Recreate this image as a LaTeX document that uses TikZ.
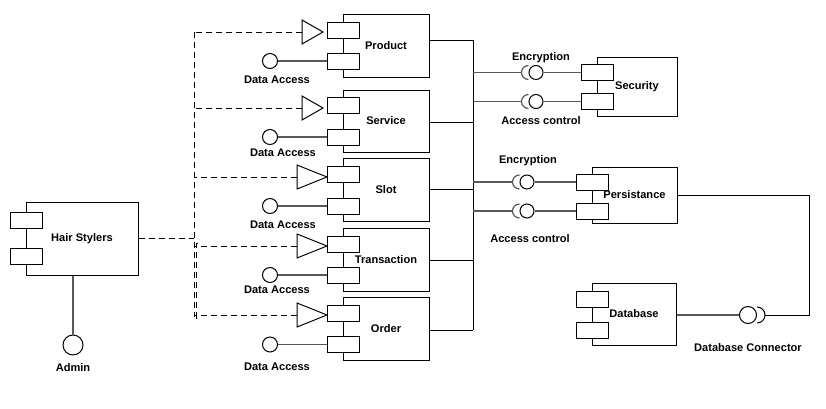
\documentclass[tikz,border=0pt]{standalone}
\usepackage{fontspec}
\setmainfont{Liberation Sans}
\begin{document}
\begin{tikzpicture}[x=0.75pt,y=-0.75pt,
  font=\fontsize{8.3}{10}\selectfont\bfseries,
  comp/.style={draw, line width=0.75pt, fill=white, inner sep=0pt},
  port/.style={draw, line width=0.75pt, fill=white, minimum width=24pt, minimum height=12pt, inner sep=0pt},
  ball/.style={draw, circle, line width=0.75pt, fill=white, inner sep=0pt, minimum size=#1},
  ball/.default=10.5pt,
  wire/.style={line width=0.75pt},
  gwire/.style={line width=0.9pt, draw=black!65},
  dep/.style={line width=0.7pt, dash pattern=on 4.5pt off 3pt},
  lbl/.style={inner sep=0pt}]
\useasboundingbox (0,0) rectangle (826,408);

% Hair Stylers
\node[comp, minimum width=84pt, minimum height=54.75pt] (hair) at (82,238.5) {Hair Stylers};
\node[port] (hair-p1) at (26,220) {};
\node[port] (hair-p2) at (26,256) {};
\node[ball=15pt] (admin) at (73,345) {};
\draw[gwire] (hair.south -| admin) -- (admin);
\node[lbl] (admin-l) at (73,368) {Admin};

% dependency trunk
\coordinate (trunk-top) at (194,32);
\coordinate (trunk-bot) at (194,317);
\draw[dep] (trunk-top) -- (trunk-bot);
\draw[dep] (hair.east) -- (hair.east -| trunk-top);
\draw[line width=0.45pt, dash pattern=on 4.5pt off 3pt] (197.5,243) -- (196.5,243) -- (196.5,318) -- (197.5,318);

% left components
\foreach \n/\txt/\yt/\yb/\pa/\pb/\tl/\tr/\ta/\lx/\ly/\by in {
 prod/Product/14/77/30/61/302/323/32/277/80/40,
 serv/Service/90/152/105/137/302/323/108/283/153/122,
 slot/Slot/158/221/174/206/297/327/177/283/225/189,
 tran/Transaction/228/291/244.5/275/297/327/246/277/290/260,
 ord/Order/297/360/313.5/344.5/297/327/315/277/367/330}{
 \node[comp, minimum width=64.5pt, minimum height={(\yb-\yt)*0.75pt}] (\n) at (386,{(\yt+\yb)/2}) {\txt};
 \node[port] (\n-p1) at (343,\pa) {};
 \node[port] (\n-p2) at (343,\pb) {};
 \coordinate (\n-t) at (\tl,\ta);
 \draw[wire, line join=miter] (\tl,\ta-12) -- (\tr,\ta) -- (\tl,\ta+12) -- cycle;
 \draw[dep] (\n-t) -- (\n-t -| trunk-top);
 \node[ball=11.25pt] (\n-b) at (270,\pb) {};
 \draw[gwire] (\n-b) -- (\n-p2);
 \node[lbl] (\n-l) at (\lx,\ly) {Data Access};
 \coordinate (\n-bus) at (473,\by);
 \draw[wire] (\n.east |- \n-bus) -- (\n-bus);
}
\draw[wire] (prod-bus) -- (ord-bus);

% Security
\node[comp, minimum width=60pt, minimum height=44.25pt] (sec) at (637,86.5) {Security};
\node[port] (sec-p1) at (597,72.5) {};
\node[port] (sec-p2) at (597,101.5) {};
\node[ball] (sec-b1) at (536,72.5) {};
\node[ball] (sec-b2) at (536,101.5) {};
\foreach \i in {1,2}{
 \draw[gwire] (sec-b\i) -- (sec-p\i);
 \draw[gwire] (sec-b\i.west) ++(0,7) arc (90:270:7);
 \coordinate (sec-s\i) at ([xshift=-5.25pt]sec-b\i.west);
 \coordinate (sec-bus\i) at (sec-s\i -| prod-bus);
 \draw[gwire] (sec-bus\i) -- (sec-s\i);
}
\node[lbl] (enc1) at (541,58) {Encryption};
\node[lbl] (ac1) at (541,121) {Access control};

% Persistance
\node[comp, minimum width=63.75pt, minimum height=42pt] (pers) at (634.5,195) {Persistance};
\node[port] (pers-p1) at (592,182) {};
\node[port] (pers-p2) at (592,211) {};
\node[ball] (pers-b1) at (527,182) {};
\node[ball] (pers-b2) at (527,211) {};
\foreach \i in {1,2}{
 \draw[gwire] (pers-b\i) -- (pers-p\i);
 \draw[gwire] (pers-b\i.west) ++(0,7) arc (90:270:7);
 \coordinate (pers-s\i) at ([xshift=-5.25pt]pers-b\i.west);
 \coordinate (pers-bus\i) at (pers-s\i -| prod-bus);
 \draw[gwire] (pers-bus\i) -- (pers-s\i);
}
\node[lbl] (enc2) at (528,161) {Encryption};
\node[lbl] (ac2) at (530,239) {Access control};

% Database
\node[comp, minimum width=63pt, minimum height=46.5pt] (db) at (634,314) {Database};
\node[port] (db-p1) at (592,299) {};
\node[port] (db-p2) at (592,330.5) {};
\node[ball=12.75pt] (dbc) at (748,315) {};
\draw[gwire] (db.east |- dbc) -- (dbc);
\draw[wire] (dbc.east) ++(0,-8) arc (-90:90:8);
\coordinate (dbc-s) at ([xshift=6pt]dbc.east);
\coordinate (corner) at (809,195);
\draw[wire] (pers.east) -- (pers.east -| corner) |- (dbc-s);
\node[lbl] (dbc-l) at (748,348) {Database Connector};
\end{tikzpicture}
\end{document}
